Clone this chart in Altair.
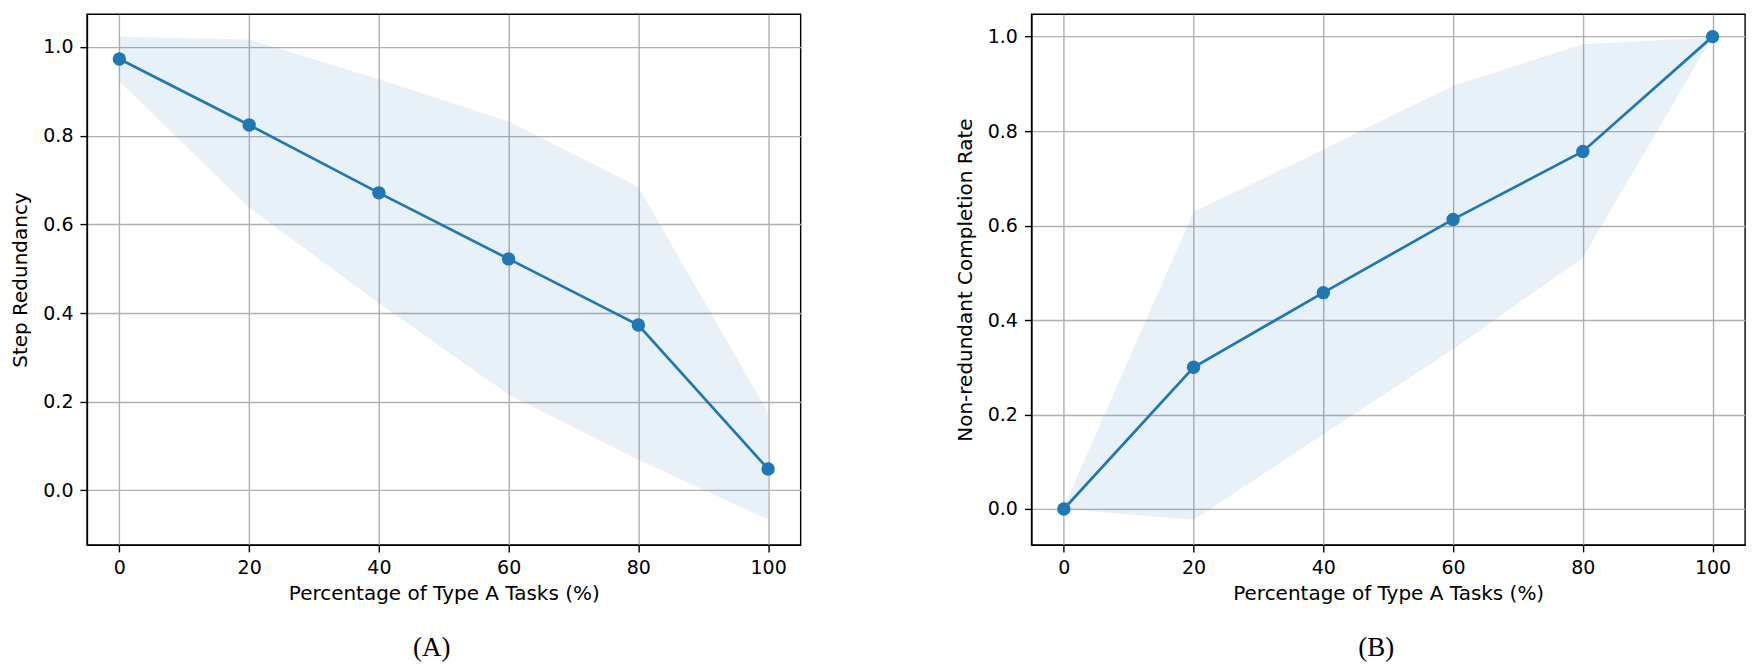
import altair as alt
import pandas as pd

# ---- data ----
pct = [0, 20, 40, 60, 80, 100]

a_mean = [0.973, 0.824, 0.671, 0.522, 0.373, 0.048]
a_low = [0.922, 0.638, 0.422, 0.216, 0.069, -0.066]
a_high = [1.023, 1.017, 0.927, 0.832, 0.684, 0.175]

b_mean = [0.0, 0.300, 0.458, 0.613, 0.757, 1.0]
b_low = [0.0, -0.023, 0.158, 0.338, 0.532, 1.0]
b_high = [0.004, 0.629, 0.761, 0.896, 0.984, 0.998]

x_ticks = [0, 20, 40, 60, 80, 100]
y_ticks = [0.0, 0.2, 0.4, 0.6, 0.8, 1.0]

BLUE = "#1f77b4"


def panel(mean, low, high, ytitle, ydomain, caption):
    df = pd.DataFrame({"x": pct, "mean": mean, "low": low, "high": high})
    xs = alt.Scale(domain=[-5, 105], nice=False, zero=False)
    ys = alt.Scale(domain=ydomain, nice=False, zero=False)
    xax = alt.Axis(values=x_ticks, format="d", title="Percentage of Type A Tasks (%)")
    yax = alt.Axis(values=y_ticks, format=".1f", title=ytitle)
    base = alt.Chart(df)
    band = base.mark_area(color=BLUE, opacity=0.1).encode(
        x=alt.X("x:Q", scale=xs, axis=xax),
        y=alt.Y("low:Q", scale=ys, axis=yax),
        y2="high:Q",
    )
    line = base.mark_line(color=BLUE, strokeWidth=2.7).encode(
        x=alt.X("x:Q", scale=xs, axis=xax),
        y=alt.Y("mean:Q", scale=ys, axis=yax),
    )
    pts = base.mark_circle(color=BLUE, size=180, opacity=1).encode(
        x=alt.X("x:Q", scale=xs, axis=xax),
        y=alt.Y("mean:Q", scale=ys, axis=yax),
    )
    return alt.layer(band, line, pts).properties(
        width=714,
        height=531,
        title=alt.TitleParams(
            caption,
            orient="bottom",
            font="Liberation Serif",
            fontSize=27,
            fontWeight="normal",
            color="black",
            frame="group",
            anchor="middle",
            dx=-12,
            offset=31,
        ),
    )


pa = panel(a_mean, a_low, a_high, "Step Redundancy", [-0.123, 1.074], "(A)")
pb = panel(b_mean, b_low, b_high, "Non-redundant Completion Rate", [-0.076, 1.0475], "(B)")

chart = (
    alt.hconcat(pa, pb, spacing=231, bounds="flush")
    .properties(padding={"left": 2, "top": 5, "right": 5, "bottom": 5}, background="white")
    .configure_view(stroke="black", strokeWidth=1.4)
    .configure_axis(
        labelFont="DejaVu Sans",
        labelFontSize=19,
        labelColor="black",
        labelPadding=7,
        titleFont="DejaVu Sans",
        titleFontSize=20,
        titleFontWeight="normal",
        titleColor="black",
        titlePadding=12,
        gridColor="#b0b0b0",
        gridWidth=1.4,
        tickColor="black",
        tickWidth=1.4,
        tickSize=7,
        domainColor="black",
        domainWidth=1.4,
    )
    .configure_axisX(titlePadding=6)
)

chart.save("out.html", embed_options={"renderer": "svg", "actions": False})
